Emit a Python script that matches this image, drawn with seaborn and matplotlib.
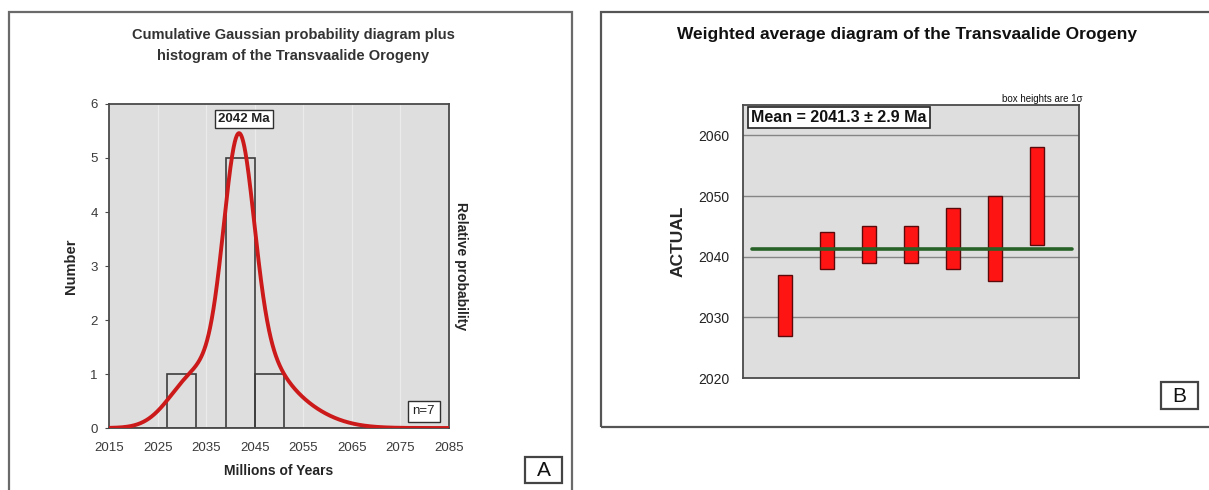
import numpy as np
import pandas as pd
import matplotlib
matplotlib.use("Agg")
import matplotlib.pyplot as plt
from matplotlib.patches import Rectangle
import seaborn as sns

# ---- data ----
box_low = [2027, 2038, 2039, 2039, 2038, 2036, 2042]   # lower edge of 1-sigma boxes (Ma)
box_high = [2037, 2044, 2045, 2045, 2048, 2050, 2058]  # upper edge of 1-sigma boxes (Ma)
ages = [(lo + hi) / 2 for lo, hi in zip(box_low, box_high)]
sigmas = [(hi - lo) / 2 for lo, hi in zip(box_low, box_high)]
weighted_mean = 2041.3
mean_err = 2.9
peak_age = 2042
peak_number = 5.46
x_ticks_a = [2015, 2025, 2035, 2045, 2055, 2065, 2075, 2085]
y_ticks_a = [0, 1, 2, 3, 4, 5, 6]
y_ticks_b = [2020, 2030, 2040, 2050, 2060]

sns.set_style("white")
plt.rcParams['font.family'] = ['Liberation Sans', 'DejaVu Sans']

W, H = 1209, 490
fig = plt.figure(figsize=(W / 100, H / 100), dpi=100)

def fx(px):
    return px / W

def fy(py):
    return 1 - py / H

BG = '#dedede'
SPINE = '#4a4a4a'
TXT = '#3a3a3a'

def letter_box(x0, y0, x1, y1, letter):
    fig.add_artist(Rectangle((fx(x0), fy(y1)), fx(x1) - fx(x0), fy(y0) - fy(y1),
                             fc='white', ec='#444444', lw=1.6, transform=fig.transFigure))
    fig.text(fx((x0 + x1) / 2), fy((y0 + y1) / 2 + 0.5), letter, ha='center', va='center',
             fontsize=15, color='#111111')

# ---------------- Panel A ----------------
axA = fig.add_axes([fx(109), fy(428), fx(449) - fx(109), fy(104) - fy(428)])
axA.set_facecolor(BG)
for x in x_ticks_a[1:-1]:
    axA.axvline(x, color='#ebebeb', lw=0.9, zorder=0)
sns.histplot(x=ages, bins=np.arange(2015, 2086, 6), fill=False, color='#3c3c3c',
             linewidth=1.2, ax=axA, zorder=2)
axA.set_xlim(2015, 2085)
axA.set_ylim(0, 6)
axA.set_xticks(x_ticks_a)
axA.set_yticks(y_ticks_a)
axA.tick_params(axis='x', direction='out', length=3, width=0.8, color=SPINE,
                labelsize=9.5, labelcolor=TXT, pad=7)
axA.tick_params(axis='y', direction='out', length=3, width=0.8, color=SPINE,
                labelsize=9.5, labelcolor=TXT, pad=5)
axA.set_xlabel('Millions of Years', fontsize=10, fontweight='bold', labelpad=7)
axA.set_ylabel('Number', fontsize=10.5, fontweight='bold', labelpad=9)
for s in axA.spines.values():
    s.set_color(SPINE)
    s.set_linewidth(1.3)

axP = axA.twinx()
xs = np.linspace(2015, 2085, 1401)
dens = np.zeros_like(xs)
for a, s in zip(ages, sigmas):
    dens += np.exp(-0.5 * ((xs - a) / s) ** 2) / (s * np.sqrt(2 * np.pi))
curve = pd.DataFrame({'age': xs, 'prob': dens})
sns.lineplot(data=curve, x='age', y='prob', ax=axP, color='#cc1a1a', lw=2.8, zorder=3)
axP.set_ylim(0, dens.max() * 6 / peak_number)
axP.set_yticks([])
axP.set_xlim(2015, 2085)
axP.set_ylabel('Relative probability', fontsize=10, fontweight='bold', rotation=270, labelpad=14)
for s in axP.spines.values():
    s.set_visible(False)

axA.text(peak_age + 0.8, 5.72, f'{peak_age} Ma', ha='center', va='center', fontsize=9.5,
         fontweight='bold', color='#202020',
         bbox=dict(boxstyle='square,pad=0.25', fc='white', ec='#303030', lw=1), zorder=5)
axA.text(2079.8, 0.31, f'n={len(ages)}', ha='center', va='center', fontsize=9.5,
         color='#202020',
         bbox=dict(boxstyle='square,pad=0.35', fc='white', ec='#303030', lw=1), zorder=5)

fig.text(fx(293), fy(35), 'Cumulative Gaussian probability diagram plus', ha='center',
         va='center', fontsize=10.5, fontweight='bold', color='#333333')
fig.text(fx(293), fy(56), 'histogram of the Transvaalide Orogeny', ha='center',
         va='center', fontsize=10.5, fontweight='bold', color='#333333')
letter_box(525, 457, 562, 483, 'A')

fig.add_artist(Rectangle((fx(9), -0.05), fx(572) - fx(9), fy(12) + 0.05, fill=False,
                         ec='#6a6a6a', lw=1.6, transform=fig.transFigure))

# ---------------- Panel B ----------------
axB = fig.add_axes([fx(743), fy(378), fx(1079) - fx(743), fy(105) - fy(378)])
axB.set_facecolor(BG)
positions = np.arange(1, len(box_low) + 1)
boxes = pd.DataFrame({'pos': positions, 'low': box_low,
                      'height': [hi - lo for lo, hi in zip(box_low, box_high)]})
for yt in y_ticks_b[1:]:
    axB.axhline(yt, color='#858585', lw=1.0, zorder=0)
axB.bar(boxes['pos'], boxes['height'], bottom=boxes['low'], width=0.32,
        color='#ff1414', edgecolor='#5a0a0a', linewidth=1.0, zorder=2)
sns.lineplot(x=[0.21, 7.83], y=[weighted_mean, weighted_mean], ax=axB, color='#276127',
             lw=2.6, zorder=3)
axB.set_xlim(0, 8)
axB.set_ylim(2020, 2065)
axB.set_xticks([])
axB.set_yticks(y_ticks_b)
axB.set_yticks(np.arange(2025, 2065, 10), minor=True)
axB.tick_params(axis='y', which='major', direction='in', length=3, width=0.8, color=SPINE,
                labelsize=10, labelcolor='#222222', pad=10)
axB.tick_params(axis='y', which='minor', direction='in', length=2, width=0.8, color=SPINE)
axB.set_ylabel('ACTUAL', fontsize=12.5, fontweight='bold', labelpad=9)
for s in axB.spines.values():
    s.set_color(SPINE)
    s.set_linewidth(1.3)

axB.text(0.2, 2062.9, f'Mean = {weighted_mean} \u00b1 {mean_err} Ma', ha='left', va='center',
         fontsize=11.5, fontweight='bold', color='#111111',
         bbox=dict(boxstyle='square,pad=0.2', fc='white', ec='#222222', lw=1.2), zorder=5)
axB.text(1.01, 1.005, 'box heights are 1\u03c3', transform=axB.transAxes, ha='right',
         va='bottom', fontsize=7, color='#111111')

fig.text(fx(907), fy(34), 'Weighted average diagram of the Transvaalide Orogeny',
         ha='center', va='center', fontsize=12.5, fontweight='bold', color='#111111')
letter_box(1161, 382, 1198, 409, 'B')

fig.add_artist(Rectangle((fx(601), fy(427)), 1.05 - fx(601), fy(12) - fy(427), fill=False,
                         ec='#555555', lw=1.6, transform=fig.transFigure))

fig.savefig('out.png', dpi=100, facecolor='white')
